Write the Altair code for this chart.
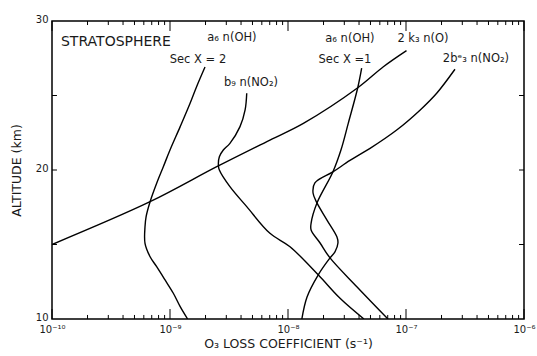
import math
import altair as alt
import pandas as pd

# ---------------- data ----------------
# altitude (km) and O3 loss coefficient (s^-1) along each curve
a6_sec2_alt = [26.91, 25.59, 24.48, 22.91, 21.34, 20.22, 19.11, 17.87, 16.86, 16.19,
               15.08, 14.18, 13.51, 12.62, 11.73, 10.83, 10.0]
a6_sec2_k = [1.98e-9, 1.68e-9, 1.48e-9, 1.22e-9, 1.0e-9, 8.78e-10, 7.71e-10, 6.78e-10, 6.27e-10,
             6.14e-10, 6.14e-10, 6.78e-10, 7.71e-10, 9.08e-10, 1.067e-9, 1.22e-9, 1.41e-9]

k3_alt = [15.0, 17.87, 20.22, 22.01, 23.13, 25.52, 26.93, 28.01]
k3_k = [1.0e-10, 6.78e-10, 2.49e-9, 7.03e-9, 1.35e-8, 3.9e-8, 6.43e-8, 1.01e-7]

b9_alt = [25.15, 24.03, 22.91, 21.79, 21.34, 20.89, 20.34, 20.0, 18.88, 17.54, 15.75,
          14.85, 12.95, 11.39, 10.0]
b9_k = [4.47e-9, 4.33e-9, 3.92e-9, 3.22e-9, 2.83e-9, 2.62e-9, 2.57e-9, 2.62e-9, 3.22e-9,
        4.47e-9, 7.03e-9, 1.04e-8, 1.81e-8, 2.76e-8, 4.4e-8]

a6_sec1_alt = [26.83, 25.52, 23.13, 21.34, 19.87, 17.79, 16.44, 15.97, 15.1, 14.1, 12.15, 10.0]
a6_sec1_k = [4.21e-8, 3.9e-8, 3.24e-8, 2.81e-8, 2.4e-8, 1.76e-8, 1.57e-8, 1.57e-8, 1.87e-8,
             2.27e-8, 3.85e-8, 7.03e-8]

b3_alt = [26.76, 25.15, 24.03, 22.68, 21.45, 20.64, 19.87, 19.13, 18.46, 17.79, 16.64,
          15.5, 15.1, 14.5, 14.1, 12.95, 11.48, 10.0]
b3_k = [2.6e-7, 1.82e-7, 1.32e-7, 8.34e-8, 4.96e-8, 3.35e-8, 2.4e-8, 1.69e-8, 1.63e-8,
        1.76e-8, 2.14e-8, 2.6e-8, 2.65e-8, 2.5e-8, 2.27e-8, 1.8e-8, 1.45e-8, 1.31e-8]

# curve annotations (text, loss coefficient, altitude)
label_text = ["a₆  n(OH)", "Sec Χ = 2", "b₉ n(NO₂)", "a₆  n(OH)", "Sec Χ =1", "2 k₃ n(O)", "2bᵉ₃ n(NO₂)"]
label_k = [10 ** -8.475, 10 ** -8.763, 10 ** -8.314, 10 ** -7.475, 10 ** -7.517, 10 ** -6.856, 10 ** -6.407]
label_alt = [28.86, 27.38, 25.84, 28.79, 27.38, 28.79, 27.45]

title_text = ["STRATOSPHERE"]
title_k = [10 ** -9.458]
title_alt = [28.6]

# axes (decade exponents of the log axis, minor multipliers, labels)
x_decades = [-10, -9, -8, -7, -6]
x_minor_mult = [2, 3, 4, 5, 6, 7, 8, 9]
x_labels = ["10⁻¹⁰", "10⁻⁹", "10⁻⁸", "10⁻⁷", "10⁻⁶"]
y_ticks = [10, 15, 20, 25, 30]
y_inner_ticks = [15, 20, 25]

# ---------------- build tables ----------------
rows = []
for name, alts, ks in [
    ("a6 sec2", a6_sec2_alt, a6_sec2_k),
    ("2k3", k3_alt, k3_k),
    ("b9", b9_alt, b9_k),
    ("a6 sec1", a6_sec1_alt, a6_sec1_k),
    ("2b3", b3_alt, b3_k),
]:
    for i, (a, k) in enumerate(zip(alts, ks)):
        rows.append({"series": name, "alt": a, "k": k, "idx": i})
curves = pd.DataFrame(rows)
labels = pd.DataFrame({"t": label_text, "k": label_k, "ly": label_alt})
titles = pd.DataFrame({"t": title_text, "k": title_k, "ly": title_alt})

major_df = pd.DataFrame({"pos": x_decades})
minor_df = pd.DataFrame({"pos": [e + math.log10(m) for e in x_decades[:-1] for m in x_minor_mult]})
yt_df = pd.DataFrame({"a": y_inner_ticks})

FONT = "DejaVu Sans"
INK = "#1a1a1a"
XMIN, XMAX = x_decades[0], x_decades[-1]
YMIN, YMAX = y_ticks[0], y_ticks[-1]
# log axis drawn as a linear scale over log10(k)
xscale = alt.Scale(type="linear", domain=[XMIN, XMAX], nice=False, zero=False)
yscale = alt.Scale(domain=[YMIN, YMAX], nice=False, zero=False)
LOGK = "log(datum.k)/LN10"
label_arr = "[" + ",".join(f"'{s}'" for s in x_labels) + "]"

# tick lengths (style), expressed in axis units: ~10 px / ~4 px vertical, ~5 px horizontal
MAJ_KM, MIN_KM = 0.67, 0.27
YT_DEC = 0.042

x_bottom = alt.Axis(
    orient="bottom", values=x_decades, ticks=False, domain=False, grid=False,
    labelExpr=f"{label_arr}[round(datum.value) + 10]",
    labelFlush=False, labelPadding=5,
    title="O₃ LOSS COEFFICIENT (s⁻¹)", titlePadding=3,
)
y_left = alt.Axis(
    orient="left", values=y_ticks, ticks=False, domain=False, grid=False,
    labelExpr="datum.value % 10 == 0 ? datum.label : ''", labelPadding=4, labelOffset=-2,
    title="ALTITUDE (km)", titlePadding=12,
)

lines = alt.Chart(curves).transform_calculate(lk=LOGK).mark_line(
    color="black", strokeWidth=1.4, interpolate="catmull-rom", clip=True
).encode(
    x=alt.X("lk:Q", scale=xscale, axis=x_bottom),
    y=alt.Y("alt:Q", scale=yscale, axis=y_left),
    detail="series:N",
    order="idx:Q",
)

curve_labels = alt.Chart(labels).transform_calculate(lk=LOGK).mark_text(
    font=FONT, fontSize=11.5, color=INK, align="center", baseline="middle"
).encode(
    x=alt.X("lk:Q", scale=xscale, axis=None),
    y=alt.Y("ly:Q", scale=yscale, axis=None),
    text="t:N",
)

region_label = alt.Chart(titles).transform_calculate(lk=LOGK).mark_text(
    font=FONT, fontSize=14, color=INK, align="center", baseline="middle"
).encode(
    x=alt.X("lk:Q", scale=xscale, axis=None),
    y=alt.Y("ly:Q", scale=yscale, axis=None),
    text="t:N",
)


def xticks(df, y0, y1):
    return alt.Chart(df).mark_rule(color="black", strokeWidth=1).encode(
        x=alt.X("pos:Q", scale=xscale, axis=None),
        y=alt.Y(datum=y0, scale=yscale, axis=None),
        y2=alt.Y2(datum=y1),
    )


def yticks(x0, x1):
    return alt.Chart(yt_df).mark_rule(color="black", strokeWidth=1).encode(
        y=alt.Y("a:Q", scale=yscale, axis=None),
        x=alt.X(datum=x0, scale=xscale, axis=None),
        x2=alt.X2(datum=x1),
    )


tick_layers = [
    xticks(major_df, YMIN, YMIN + MAJ_KM),
    xticks(minor_df, YMIN, YMIN + MIN_KM),
    xticks(major_df, YMAX, YMAX - MAJ_KM),
    xticks(minor_df, YMAX, YMAX - MIN_KM),
    yticks(XMIN, XMIN + YT_DEC),
    yticks(XMAX, XMAX - YT_DEC),
]

chart = alt.layer(lines, curve_labels, region_label, *tick_layers).resolve_axis(
    x="independent", y="independent"
).properties(
    width=472, height=298,
    autosize=alt.AutoSizeParams(type="none"),
    padding={"left": 52, "top": 21, "right": 13, "bottom": 37},
    background="white",
).configure_view(
    stroke="black", strokeWidth=1.5
).configure_axis(
    labelFont=FONT, labelFontSize=10, labelColor=INK,
    titleFont=FONT, titleFontSize=12.5, titleFontWeight="normal", titleColor=INK,
)

chart.save("out.html", embed_options={"renderer": "svg", "actions": False})
